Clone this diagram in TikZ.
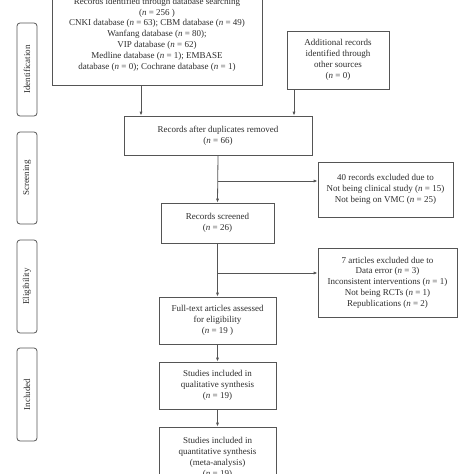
\documentclass[tikz,border=0pt]{standalone}
\usepackage{fontspec}
\setmainfont{Liberation Serif}
\usetikzlibrary{arrows.meta}
\definecolor{txt}{HTML}{2E2E2E}
\definecolor{ln}{HTML}{555555}
\begin{document}
\begin{tikzpicture}[x=1pt,y=-1pt,
  box/.style={draw=ln,line width=0.8pt,text=txt,align=center,inner sep=1pt,
    font=\fontsize{9}{10.8}\selectfont},
  phase/.style={draw=ln,line width=0.8pt,rounded corners=3pt,text=txt,
    minimum width=20pt,rotate=90,font=\fontsize{9}{10}\selectfont,inner sep=0pt},
  arr/.style={draw=ln,line width=0.8pt,-{Latex[length=4pt,width=3.2pt]}},
  lnk/.style={draw=ln,line width=0.8pt}]
\useasboundingbox (0,0) rectangle (474,474);
\fill[white] (0,0) rectangle (474,474);
% phase labels
\node[phase,minimum height=20pt,minimum width=93pt] (pid) at (27,69.5) {Identification};
\node[phase,minimum height=20pt,minimum width=92pt] (psc) at (27,178) {Screening};
\node[phase,minimum height=20pt,minimum width=93pt] (pel) at (27,286.5) {Eligibility};
\node[phase,minimum height=20pt,minimum width=93pt] (pin) at (27,394.5) {Included};
% boxes
\node[box,minimum width=210pt,minimum height=101pt] (db) at (157,34.5)
 {Records identified through database searching\\(\textit{n} = 256 )\\CNKI database (\textit{n} = 63); CBM database (\textit{n} = 49)\\Wanfang database (\textit{n} = 80);\\VIP database (\textit{n} = 62)\\Medline database (\textit{n} = 1); EMBASE\\database (\textit{n} = 0); Cochrane database (\textit{n} = 1)};
\node[box,minimum width=102pt,minimum height=58pt] (add) at (338,60)
 {Additional records\\identified through\\other sources\\(\textit{n} = 0)};
\node[box,minimum width=188pt,minimum height=39pt] (dup) at (218,135.5)
 {Records after duplicates removed\\(\textit{n} = 66)};
\node[box,minimum width=135pt,minimum height=55pt] (ex1) at (385.5,189.5)
 {40 records excluded due to\\Not being clinical study (\textit{n} = 15)\\Not being on VMC (\textit{n} = 25)};
\node[box,minimum width=113pt,minimum height=40pt] (scr) at (217.5,223)
 {Records screened\\(\textit{n} = 26)};
\node[box,minimum width=139pt,minimum height=69pt] (ex2) at (387.5,282.5)
 {7 articles excluded due to\\Data error (\textit{n} = 3)\\Inconsistent interventions (\textit{n} = 1)\\Not being RCTs (\textit{n} = 1)\\Republications (\textit{n} = 2)};
\node[box,minimum width=117pt,minimum height=47pt] (full) at (217.5,320.5)
 {Full-text articles assessed\\for eligibility\\(\textit{n} = 19 )};
\node[box,minimum width=117pt,minimum height=47pt] (qual) at (217.5,385.5)
 {Studies included in\\qualitative synthesis\\(\textit{n} = 19)};
\node[box,minimum width=117pt,minimum height=62pt] (quant) at (217.5,458)
 {Studies included in\\quantitative synthesis\\(meta-analysis)\\(\textit{n} = 19)};
% connectors
\coordinate (c1) at (141,0);
\coordinate (c2) at (294,0);
\draw[arr] (db.south -| c1) -- (dup.north -| c1);
\draw[arr] (add.south -| c2) -- (dup.north -| c2);
\draw[arr] (dup.south) -- (scr.north);
\coordinate (b1) at (217.5,181);
\draw[arr] (b1) -- (b1 -| ex1.west);
\draw[arr] (scr.south) -- (full.north);
\coordinate (b2) at (217.5,273);
\draw[arr] (b2) -- (b2 -| ex2.west);
\draw[arr] (full.south) -- (qual.north);
\draw[arr] (qual.south) -- (quant.north);
\end{tikzpicture}
\end{document}
